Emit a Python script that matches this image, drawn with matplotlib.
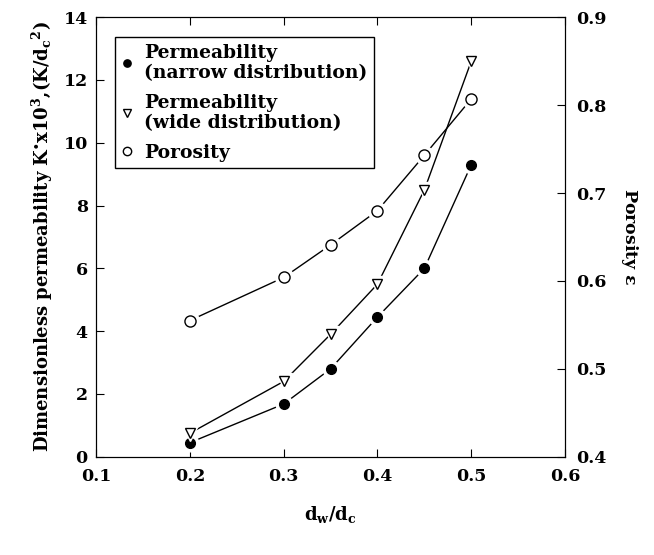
import matplotlib
matplotlib.use("Agg")
from matplotlib import pyplot as plt

plt.rcParams['font.family'] = ['DejaVu Serif', 'Liberation Serif']
plt.rcParams['font.weight'] = 'bold'
plt.rcParams['axes.labelweight'] = 'bold'
plt.rcParams['mathtext.fontset'] = 'custom'
plt.rcParams['mathtext.rm'] = 'DejaVu Serif:bold'
plt.rcParams['mathtext.it'] = 'DejaVu Serif:bold'
plt.rcParams['mathtext.bf'] = 'DejaVu Serif:bold'
plt.rcParams['mathtext.default'] = 'bf'

# values
ratio = [0.2, 0.3, 0.35, 0.4, 0.45, 0.5]
perm_narrow = [0.45, 1.68, 2.8, 4.45, 6.0, 9.3]
perm_wide = [0.75, 2.4, 3.9, 5.5, 8.5, 12.6]
porosity = [0.555, 0.604, 0.641, 0.680, 0.743, 0.807]

fig = plt.figure(figsize=(6.54, 5.55), dpi=100)
ax = fig.add_axes([0.147, 0.177, 0.717, 0.792])
ax2 = ax.twinx()

ms = 7
ax.plot(ratio, perm_narrow, '-', color='black', lw=1)
ax.plot(ratio, perm_narrow, 'o', color='white', ms=ms + 5, mec='white')
ax.plot(ratio, perm_narrow, 'o', color='black', ms=ms,
        label='Permeability\n(narrow distribution)')
ax.plot(ratio, perm_wide, '-', color='black', lw=1)
ax.plot(ratio, perm_wide, 'v', color='white', ms=ms + 5, mec='white')
ax.plot(ratio, perm_wide, 'v', color='black', ms=ms, mfc='white', mew=1,
        label='Permeability\n(wide distribution)')
ax2.plot(ratio, porosity, '-', color='black', lw=1)
ax2.plot(ratio, porosity, 'o', color='white', ms=ms + 6, mec='white')
ax2.plot(ratio, porosity, 'o', color='black', ms=ms + 1, mfc='white', mew=1,
         label='Porosity')

ax.set_xlim(0.1, 0.6)
ax.set_ylim(0, 14)
ax2.set_ylim(0.4, 0.9)
ax.set_xticks([0.1, 0.2, 0.3, 0.4, 0.5, 0.6])
ax.set_yticks(range(0, 15, 2))
ax2.set_yticks([0.4, 0.5, 0.6, 0.7, 0.8, 0.9])
ax.tick_params(axis='x', direction='in', top=True, labelsize=12.5, length=6, pad=8)
ax.tick_params(axis='y', direction='in', labelsize=12.5, length=6, pad=6)
ax2.tick_params(axis='y', direction='in', labelsize=12.5, length=6, pad=8)

ax.set_xlabel(r'd$_w$/d$_c$', fontsize=13, labelpad=14)
ax.set_ylabel(r'Dimensionless permeability K$^{\bullet}$x10$^3$,(K/d$_c$$^2$)',
              fontsize=13, labelpad=6)
ax2.set_ylabel(r'Porosity $\epsilon$', fontsize=12.5, rotation=270, labelpad=24)

h1, l1 = ax.get_legend_handles_labels()
h2, l2 = ax2.get_legend_handles_labels()
leg = ax.legend(h1 + h2, l1 + l2, loc='upper left', fontsize=13.5,
                markerscale=0.75, handlelength=0.6, handletextpad=0.6,
                borderpad=0.35, labelspacing=0.6, fancybox=False,
                edgecolor='black', framealpha=1, borderaxespad=0,
                bbox_to_anchor=(0.04, 0.955))
leg.get_frame().set_linewidth(1)

plt.savefig('out.png', dpi=100)
